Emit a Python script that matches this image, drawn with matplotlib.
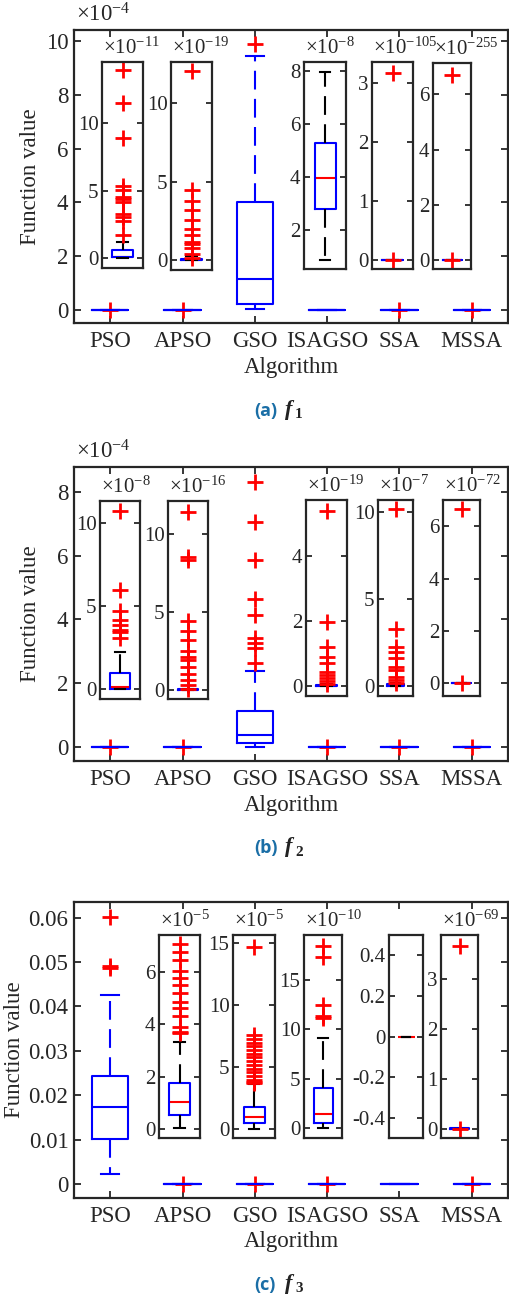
import matplotlib
matplotlib.use('Agg')
import matplotlib.pyplot as plt

W, H = 509, 1294
plt.rcParams['font.family'] = ['Liberation Serif', 'DejaVu Serif']
plt.rcParams['mathtext.fontset'] = 'custom'
plt.rcParams['mathtext.rm'] = 'Liberation Serif'
plt.rcParams['mathtext.it'] = 'Liberation Serif:italic'
plt.rcParams['mathtext.bf'] = 'Liberation Serif:bold'

# ---------------- data ----------------
algorithms = ['PSO', 'APSO', 'GSO', 'ISAGSO', 'SSA', 'MSSA']

# panel (a) main, units of 1e-4
a_q1 = [0, 0, 0.22, 0, 0, 0]
a_med = [0, 0, 1.15, 0, 0, 0]
a_q3 = [0, 0, 4.0, 0, 0, 0]
a_lo = [0, 0, 0.04, 0, 0, 0]
a_hi = [0, 0, 9.45, 0, 0, 0]
a_fliers = [[0], [0], [9.88], [], [0], [0]]
a_yticks = [0, 2, 4, 6, 8, 10]

# panel (a) insets
a_in_algs = ['PSO', 'APSO', 'ISAGSO', 'SSA', 'MSSA']
a_in_exp = [-11, -19, -8, -105, -255]
a_in_q1 = [0.07, 0.0, 2.8, 0, 0]
a_in_med = [0.12, 0.0, 3.96, 0, 0]
a_in_q3 = [0.61, 0.06, 5.3, 0.01, 0.01]
a_in_lo = [0.0, 0.0, 0.87, 0, 0]
a_in_hi = [1.23, 0.25, 7.96, 0, 0]
a_in_fliers = [
    [13.9, 11.5, 8.9, 5.35, 5.05, 4.5, 4.35, 4.15, 3.3, 3.05, 2.75, 1.72],
    [12.1, 4.47, 3.8, 3.2, 2.55, 2.0, 1.6, 1.17, 1.0, 0.75, 0.4, 0.1],
    [],
    [3.17, 0.0],
    [6.7, 0.0],
]
a_in_ylim = [(-0.72, 14.5), (-0.64, 12.65), (0.53, 8.34), (-0.15, 3.36), (-0.33, 7.14)]
a_in_yticks = [[0, 5, 10], [0, 5, 10], [2, 4, 6, 8], [0, 1, 2, 3], [0, 2, 4, 6]]

# panel (b) main, units of 1e-4
b_q1 = [0, 0, 0.13, 0, 0, 0]
b_med = [0, 0, 0.38, 0, 0, 0]
b_q3 = [0, 0, 1.13, 0, 0, 0]
b_lo = [0, 0, 0.01, 0, 0, 0]
b_hi = [0, 0, 2.39, 0, 0, 0]
b_fliers = [[0], [0], [8.32, 7.06, 5.86, 4.63, 4.14, 3.41, 3.25, 3.09, 2.62], [0], [0], [0]]
b_yticks = [0, 2, 4, 6, 8]

# panel (b) insets
b_in_algs = ['PSO', 'APSO', 'ISAGSO', 'SSA', 'MSSA']
b_in_exp = [-8, -16, -19, -7, -72]
b_in_q1 = [0.0, 0.0, 0.0, 0.0, 0]
b_in_med = [0.12, 0.0, 0.0, 0.02, 0]
b_in_q3 = [0.95, 0.05, 0.03, 0.12, 0.01]
b_in_lo = [0, 0, 0, 0, 0]
b_in_hi = [2.2, 0.1, 0.05, 0.15, 0]
b_in_fliers = [
    [10.7, 5.96, 4.66, 4.16, 3.86, 3.55, 3.4, 3.07],
    [11.4, 8.5, 8.3, 4.4, 3.8, 3.2, 2.5, 2.1, 1.9, 1.5, 1.0, 0.64, 0.3, 0.1],
    [5.38, 1.98, 1.2, 0.9, 0.7, 0.44, 0.35, 0.25, 0.15, 0.05],
    [10.2, 3.3, 2.25, 1.95, 1.6, 1.1, 0.9, 0.53, 0.35, 0.2],
    [6.65, 0.0],
]
b_in_ylim = [(-0.6, 11.3), (-0.57, 12.1), (-0.31, 5.72), (-0.57, 10.7), (-0.49, 7.0)]
b_in_yticks = [[0, 5, 10], [0, 5, 10], [0, 2, 4], [0, 5, 10], [0, 2, 4, 6]]

# panel (c) main
c_q1 = [0.0101, 0, 0, 0, 0, 0]
c_med = [0.0173, 0, 0, 0, 0, 0]
c_q3 = [0.0243, 0, 0, 0, 0, 0]
c_lo = [0.0022, 0, 0, 0, 0, 0]
c_hi = [0.0426, 0, 0, 0, 0, 0]
c_fliers = [[0.0602, 0.049, 0.0486], [0], [0], [0], [], [0]]
c_yticks = [0, 0.01, 0.02, 0.03, 0.04, 0.05, 0.06]
c_yticklabels = ['0', '0.01', '0.02', '0.03', '0.04', '0.05', '0.06']

# panel (c) insets
c_in_algs = ['APSO', 'GSO', 'ISAGSO', 'SSA', 'MSSA']
c_in_exp = [-5, -5, -10, None, -69]
c_in_q1 = [0.54, 0.53, 0.5, 0, 0]
c_in_med = [1.05, 1.0, 1.41, 0, 0]
c_in_q3 = [1.77, 1.82, 4.04, 0, 0.01]
c_in_lo = [0.05, 0.0, 0.0, 0, 0]
c_in_hi = [3.33, 3.63, 9.15, 0, 0]
c_in_fliers = [
    [7.05, 6.76, 6.44, 6.03, 5.74, 5.49, 5.17, 4.85, 4.6, 4.3, 3.9, 3.71, 3.65],
    [14.7, 7.6, 7.3, 7.0, 6.7, 6.4, 6.1, 5.8, 5.5, 5.2, 4.9, 4.6, 4.3, 4.0, 3.8, 3.7],
    [18.35, 17.3, 12.45, 11.3, 11.1],
    [],
    [3.65, 0.0],
]
c_in_ylim = [(-0.33, 7.39), (-0.7, 15.67), (-0.98, 19.5), (-0.5, 0.5), (-0.19, 3.87)]
c_in_yticks = [[0, 2, 4, 6], [0, 5, 10, 15], [0, 5, 10, 15], [-0.4, -0.2, 0, 0.2, 0.4], [0, 1, 2, 3]]

# ---------------- styling / layout ----------------
BLUE = '#0000ff'
RED = '#ff0000'
AXC = '#262626'
FS = 16.5
FS_IN = 15
DASH = (0, (9, 4.5))

MAIN_PX = [(74, 508, 30, 323), (74, 508, 467, 761), (74, 508, 902, 1198)]
IN_PX = [
    [(102, 143, 62, 268), (171, 212, 62, 270), (304, 346, 62, 269), (372, 413, 62, 269), (433, 471, 63, 269)],
    [(100, 140, 501, 699), (168, 208, 501, 699), (306, 347, 500, 696), (378, 413, 500, 696), (443, 480, 500, 696)],
    [(159, 200, 935, 1138), (233, 275, 935, 1138), (304, 342, 935, 1138), (389, 423, 935, 1138), (441, 478, 935, 1138)],
]

fig = plt.figure(figsize=(W / 100, H / 100), dpi=100)


def add_axes_px(l, r, t, b):
    return fig.add_axes([l / W, 1 - b / H, (r - l) / W, (b - t) / H])


def make_stats(q1, med, q3, lo, hi, fl):
    return [dict(q1=a, med=m, q3=c, whislo=w1, whishi=w2, fliers=f)
            for a, m, c, w1, w2, f in zip(q1, med, q3, lo, hi, fl)]


def style_spines(ax):
    for s in ax.spines.values():
        s.set_linewidth(1.6)
        s.set_color(AXC)


def draw_main(box, q1, med, q3, lo, hi, fl, ylim, yticks, yticklabels=None, exp=None, ylab_x=-0.075):
    l, r, t, b = box
    ax = add_axes_px(l, r, t, b)
    ax.bxp(make_stats(q1, med, q3, lo, hi, fl), positions=range(1, 7), widths=0.5,
           manage_ticks=False,
           boxprops=dict(color=BLUE, lw=1.5),
           whiskerprops=dict(color=BLUE, lw=1.5, linestyle=DASH),
           capprops=dict(color=BLUE, lw=1.5),
           medianprops=dict(color=BLUE, lw=1.5),
           flierprops=dict(marker='+', markeredgecolor=RED, markersize=12,
                           markeredgewidth=2.0, linestyle='none'))
    ax.set_xlim(0.5, 6.5)
    ax.set_ylim(*ylim)
    ax.set_xticks(range(1, 7))
    ax.set_xticklabels(algorithms)
    ax.set_yticks(yticks)
    if yticklabels is not None:
        ax.set_yticklabels(yticklabels)
    else:
        ax.set_yticklabels([str(v) for v in yticks])
    ax.tick_params(direction='in', length=5, width=1.3, top=True, right=True,
                   labelsize=FS, colors=AXC, labelcolor=AXC)
    ax.tick_params(axis='x', pad=6)
    ax.tick_params(axis='y', pad=4)
    style_spines(ax)
    ax.set_xlabel('Algorithm', fontsize=FS, color=AXC)
    ax.xaxis.set_label_coords(0.5, -44 / (b - t))
    ax.xaxis.label.set_va('center')
    ax.set_ylabel('Function value', fontsize=FS, color=AXC)
    ax.yaxis.set_label_coords(ylab_x, 0.5)
    if exp is not None:
        ax.text(0.005, 1 + 4 / (b - t), r'$\times10^{%d}$' % exp, transform=ax.transAxes,
                ha='left', va='bottom', fontsize=FS, color=AXC)
    return ax


def draw_inset(box, q1, med, q3, lo, hi, fl, ylim, yticks, exp):
    l, r, t, b = box
    ax = add_axes_px(l, r, t, b)
    st = make_stats([q1], [med], [q3], [lo], [hi], [fl])
    degenerate = (q1 == q3 == lo == hi == med) and len(fl) == 0
    ax.bxp(st, positions=[1], widths=0.5, manage_ticks=False,
           boxprops=dict(color=BLUE, lw=1.5, alpha=0 if degenerate else 1),
           whiskerprops=dict(color='black', lw=1.5, linestyle=DASH),
           capprops=dict(color='black', lw=1.5),
           medianprops=dict(color=RED, lw=1.5, zorder=1.9),
           flierprops=dict(marker='+', markeredgecolor=RED, markersize=12,
                           markeredgewidth=2.0, linestyle='none'))
    ax.set_xlim(0.5, 1.5)
    ax.set_ylim(*ylim)
    ax.set_xticks([])
    ax.set_yticks(yticks)
    ax.set_yticklabels([('%g' % v) for v in yticks])
    ax.tick_params(direction='in', length=4, width=1.3, left=True, right=True,
                   labelsize=FS_IN, colors=AXC, labelcolor=AXC, pad=2.5)
    style_spines(ax)
    if exp is not None:
        ax.text(0.02, 1 + 3 / (b - t), r'$\times10^{%d}$' % exp, transform=ax.transAxes,
                ha='left', va='bottom', fontsize=FS_IN, color=AXC)
    return ax


# panel (a)
draw_main(MAIN_PX[0], a_q1, a_med, a_q3, a_lo, a_hi, a_fliers, (-0.48, 10.41), a_yticks, exp=-4)
for i in range(5):
    draw_inset(IN_PX[0][i], a_in_q1[i], a_in_med[i], a_in_q3[i], a_in_lo[i], a_in_hi[i],
               a_in_fliers[i], a_in_ylim[i], a_in_yticks[i], a_in_exp[i])

# panel (b)
draw_main(MAIN_PX[1], b_q1, b_med, b_q3, b_lo, b_hi, b_fliers, (-0.44, 8.78), b_yticks, exp=-4)
for i in range(5):
    draw_inset(IN_PX[1][i], b_in_q1[i], b_in_med[i], b_in_q3[i], b_in_lo[i], b_in_hi[i],
               b_in_fliers[i], b_in_ylim[i], b_in_yticks[i], b_in_exp[i])

# panel (c)
draw_main(MAIN_PX[2], c_q1, c_med, c_q3, c_lo, c_hi, c_fliers, (-0.00315, 0.0635), c_yticks,
          yticklabels=c_yticklabels, exp=None, ylab_x=-0.113)
for i in range(5):
    draw_inset(IN_PX[2][i], c_in_q1[i], c_in_med[i], c_in_q3[i], c_in_lo[i], c_in_hi[i],
               c_in_fliers[i], c_in_ylim[i], c_in_yticks[i], c_in_exp[i])

# captions
CAP_BLUE = '#1a6ea6'
for lab, sub, yc in [('(a)', '1', 411), ('(b)', '2', 848), ('(c)', '3', 1285)]:
    fig.text(254 / W, 1 - yc / H, lab, ha='left', va='center', fontsize=13,
             fontweight='bold', color=CAP_BLUE, family=['Open Sans', 'DejaVu Sans'])
    fig.text(285 / W, 1 - (yc - 1) / H, 'f', ha='left', va='center', fontsize=16,
             fontweight='bold', fontstyle='italic', color='#222222',
             family=['Liberation Serif', 'DejaVu Serif'])
    fig.text(295 / W, 1 - (yc + 4) / H, sub, ha='left', va='center', fontsize=11,
             fontweight='bold', color='#222222', family=['Liberation Serif', 'DejaVu Serif'])

fig.savefig('out.png', dpi=100)
